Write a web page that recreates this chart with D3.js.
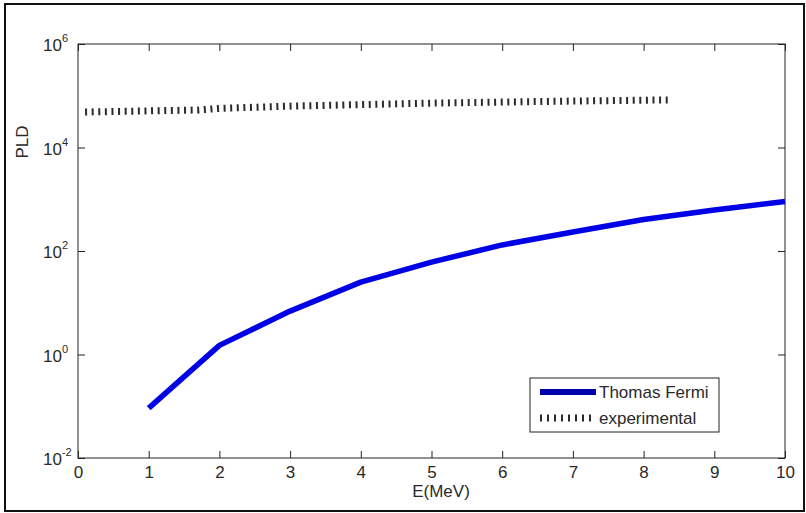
<!DOCTYPE html>
<html>
<head>
<meta charset="utf-8">
<script src="https://cdn.jsdelivr.net/npm/d3@7"></script>
<style>
  body { margin: 0; background: #fff; }
  text { font-family: "Liberation Sans", Arial, Helvetica, sans-serif; fill: #2a2a2a; }
</style>
</head>
<body>
<svg id="chart"></svg>
<script>
// figure size
const width = 806,
    height = 513;

// Thomas Fermi curve
const tfEnergy = [1, 2, 3, 4, 5, 6, 7, 8, 9, 10];
const tfPLD = [0.092, 1.5, 6.9, 25, 61, 131, 233, 406, 620, 906];

// experimental points
const expEnergy = [0.1, 1, 1.7, 2, 3, 4, 5, 6, 7, 8, 8.4];
const expPLD = [48500, 51000, 53000, 57000, 63000, 67500, 72000, 75500, 79000, 82000, 83000];

const xTicks = [0, 1, 2, 3, 4, 5, 6, 7, 8, 9, 10];
const yTicks = [1e-2, 1e0, 1e2, 1e4, 1e6];
const yExponents = ["-2", "0", "2", "4", "6"];

const margin = { left: 78, top: 44, right: 785, bottom: 458 };

const x = d3.scaleLinear()
    .domain([0, 10])
    .range([margin.left, margin.right]);

const y = d3.scaleLog()
    .domain([1e-2, 1e6])
    .range([margin.bottom, margin.top]);

const svg = d3.select("#chart")
    .attr("width", width)
    .attr("height", height);

// outer frame
svg.append("rect")
    .attr("x", 5)
    .attr("y", 4)
    .attr("width", 799)
    .attr("height", 507)
    .attr("fill", "none")
    .attr("stroke", "#111")
    .attr("stroke-width", 2);

// axes box
svg.append("rect")
    .attr("x", margin.left)
    .attr("y", margin.top)
    .attr("width", margin.right - margin.left)
    .attr("height", margin.bottom - margin.top)
    .attr("fill", "#fff")
    .attr("stroke", "#222")
    .attr("stroke-width", 1);

function styleAxis(g) {
    g.select(".domain").remove();
    g.selectAll(".tick line").attr("stroke", "#222");
    g.selectAll(".tick text")
        .style("font-size", "17px")
        .attr("fill", "#2a2a2a");
}

svg.append("g")
    .attr("transform", `translate(0,${margin.bottom})`)
    .call(d3.axisBottom(x).tickValues(xTicks).tickSize(-7).tickPadding(8).tickFormat(d3.format("d")))
    .call(styleAxis);

svg.append("g")
    .attr("transform", `translate(0,${margin.top})`)
    .call(d3.axisTop(x).tickValues(xTicks).tickSize(-7).tickFormat(""))
    .call(styleAxis);

svg.append("g")
    .attr("transform", `translate(${margin.left},0)`)
    .call(d3.axisLeft(y).tickValues(yTicks).tickSize(-7).tickFormat(""))
    .call(styleAxis);

svg.append("g")
    .attr("transform", `translate(${margin.right},0)`)
    .call(d3.axisRight(y).tickValues(yTicks).tickSize(-7).tickFormat(""))
    .call(styleAxis);

// y tick labels as 10^n
const yLabels = svg.append("g");
yTicks.forEach((v, i) => {
    const t = yLabels.append("text")
        .attr("x", 43)
        .attr("y", y(v) + 7)
        .style("font-size", "17px");
    t.append("tspan").text("10");
    t.append("tspan")
        .attr("dy", -9)
        .style("font-size", "11px")
        .text(yExponents[i]);
});

// axis titles
svg.append("text")
    .attr("x", 441)
    .attr("y", 497)
    .attr("text-anchor", "middle")
    .style("font-size", "17px")
    .text("E(MeV)");

svg.append("text")
    .attr("transform", "translate(28,142) rotate(-90)")
    .attr("text-anchor", "middle")
    .style("font-size", "17px")
    .text("PLD");

const line = d3.line()
    .x(d => x(d[0]))
    .y(d => y(d[1]));

// experimental (dotted, drawn as short vertical bars)
svg.append("path")
    .datum(d3.zip(expEnergy, expPLD))
    .attr("d", line)
    .attr("fill", "none")
    .attr("stroke", "#2a2a2a")
    .attr("stroke-width", 7)
    .attr("stroke-dasharray", "2 4.6");

// Thomas Fermi
svg.append("path")
    .datum(d3.zip(tfEnergy, tfPLD))
    .attr("d", line)
    .attr("fill", "none")
    .attr("stroke", "#0000e6")
    .attr("stroke-width", 5.5)
    .attr("stroke-linejoin", "round");

// legend
const legend = svg.append("g");
legend.append("rect")
    .attr("x", 530)
    .attr("y", 378)
    .attr("width", 189)
    .attr("height", 54)
    .attr("fill", "#fff")
    .attr("stroke", "#222")
    .attr("stroke-width", 1);

legend.append("line")
    .attr("x1", 540).attr("x2", 596)
    .attr("y1", 392).attr("y2", 392)
    .attr("stroke", "#0000aa")
    .attr("stroke-width", 6);

legend.append("line")
    .attr("x1", 540).attr("x2", 596)
    .attr("y1", 418).attr("y2", 418)
    .attr("stroke", "#2a2a2a")
    .attr("stroke-width", 7)
    .attr("stroke-dasharray", "2 5");

legend.append("text")
    .attr("x", 599)
    .attr("y", 398)
    .style("font-size", "17px")
    .text("Thomas Fermi");

legend.append("text")
    .attr("x", 599)
    .attr("y", 424)
    .style("font-size", "17px")
    .text("experimental");
</script>
</body>
</html>
